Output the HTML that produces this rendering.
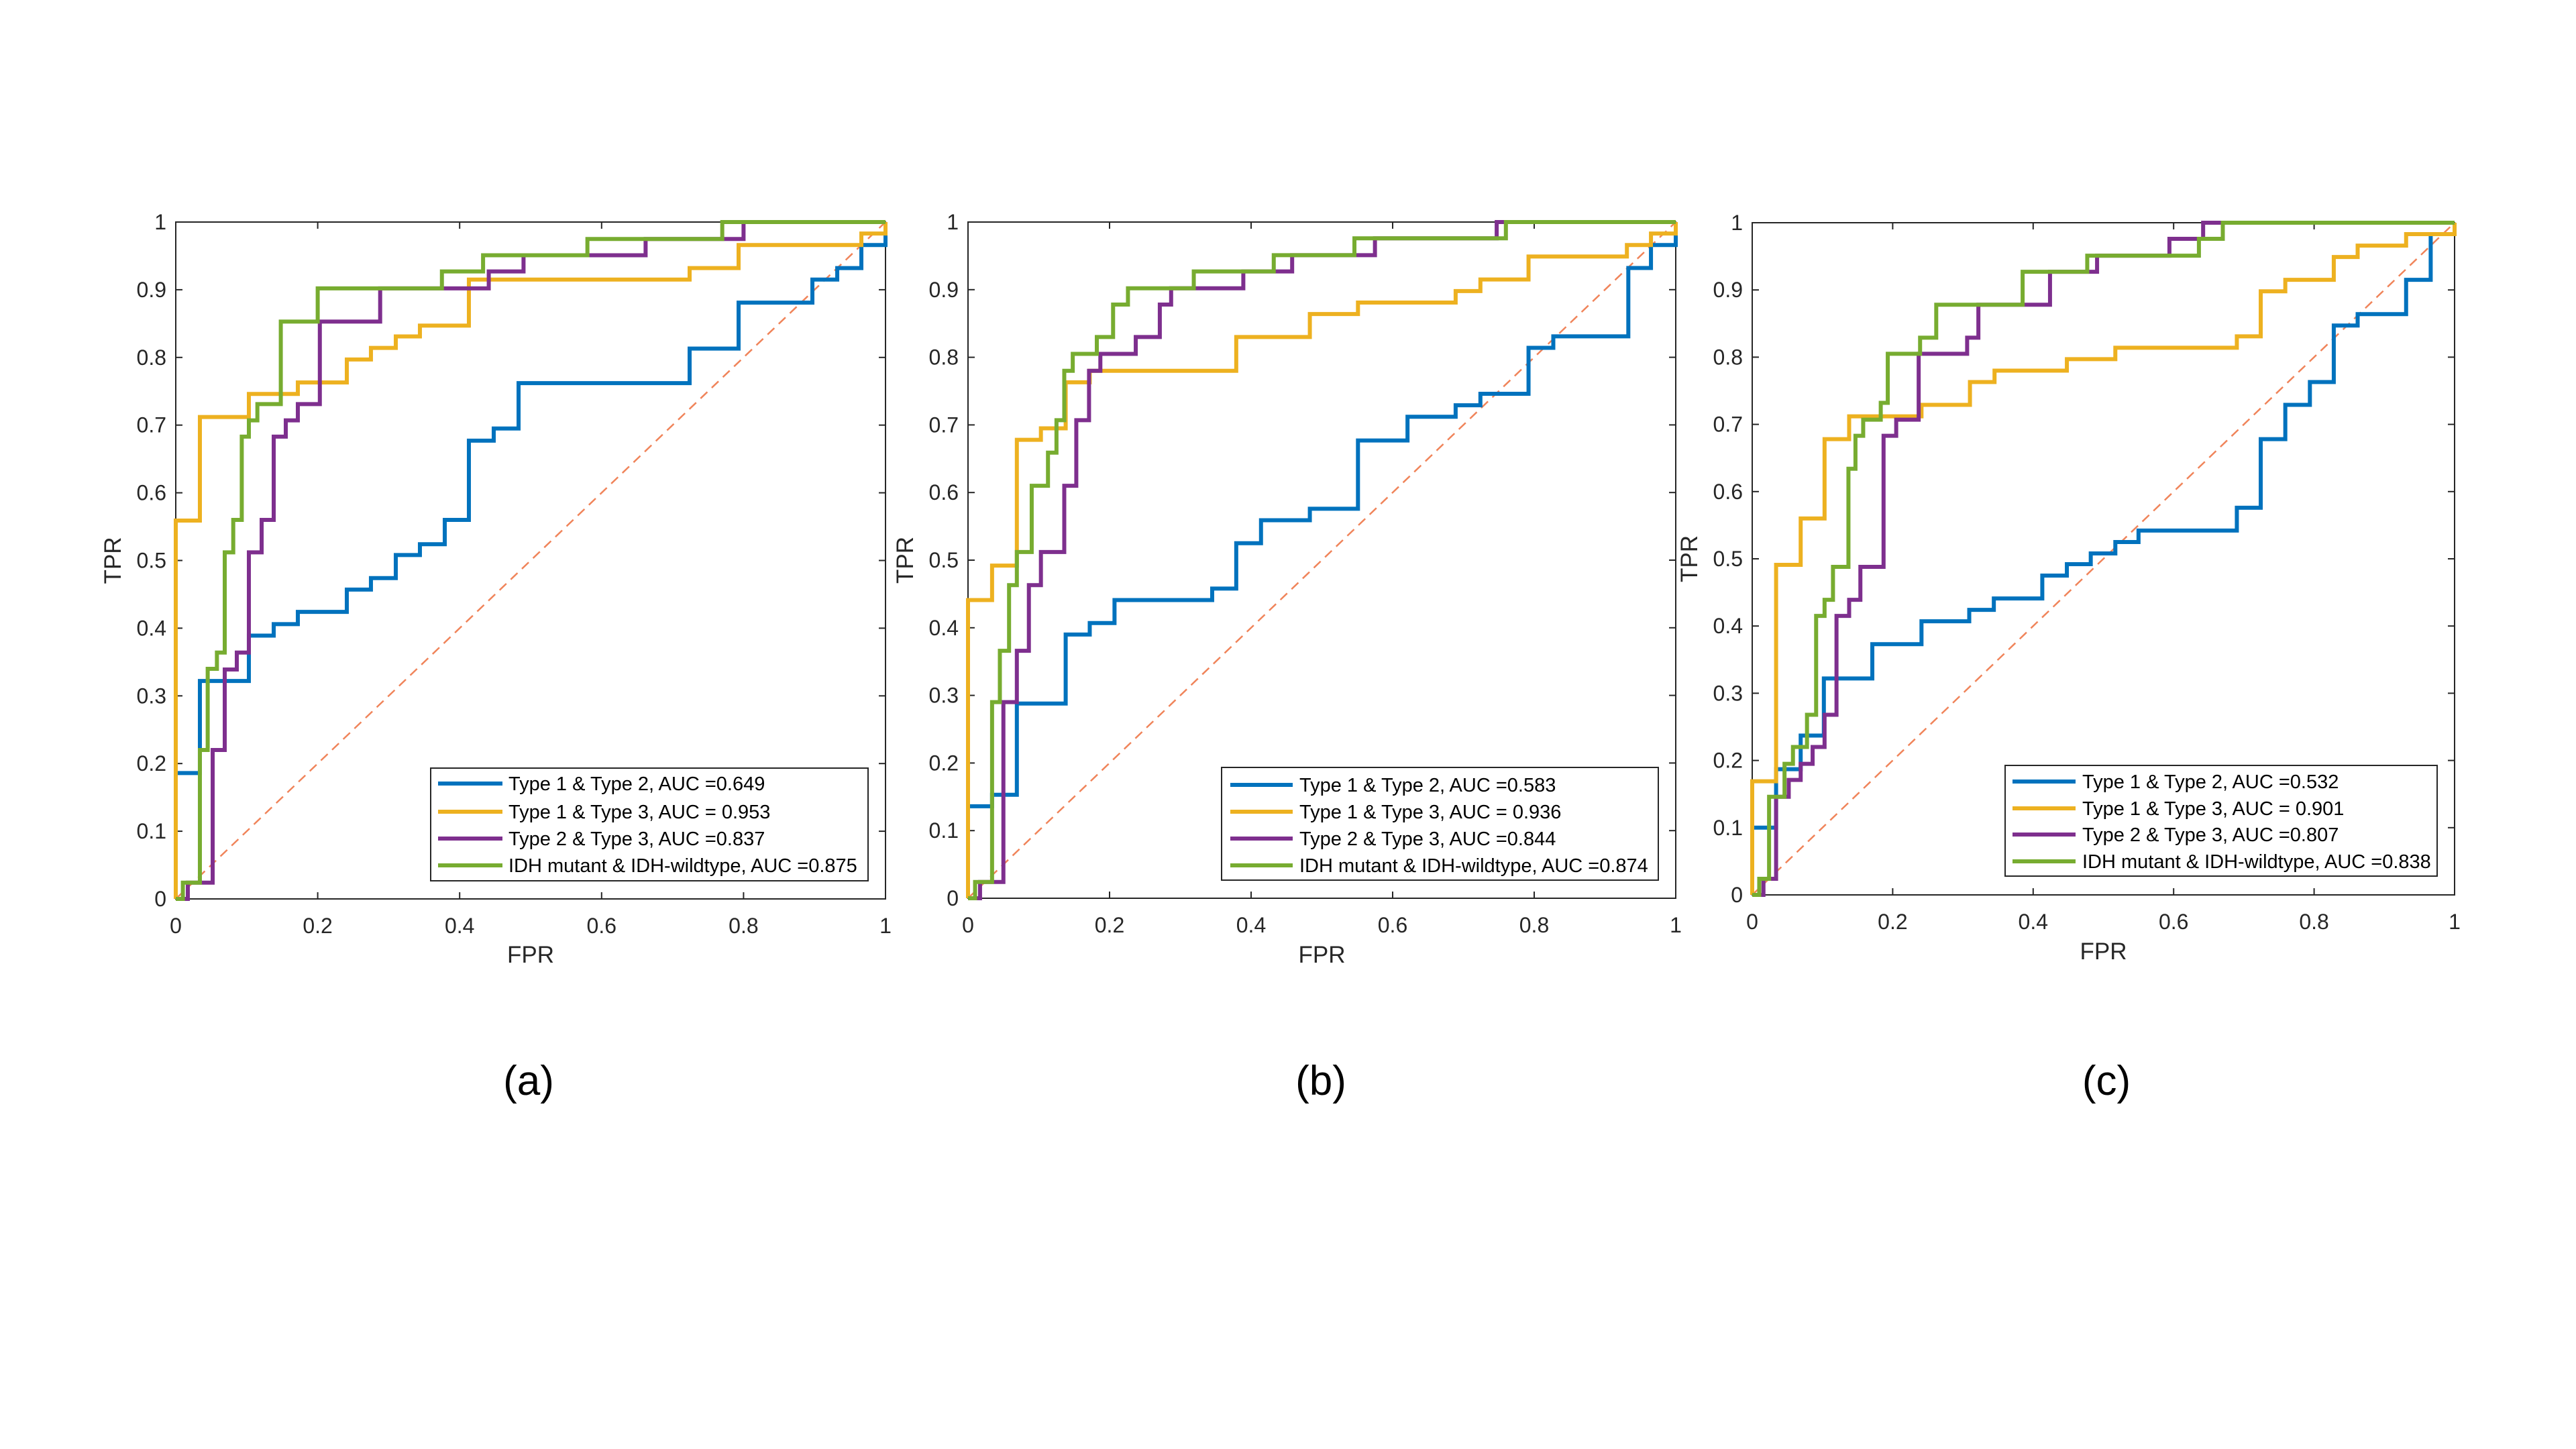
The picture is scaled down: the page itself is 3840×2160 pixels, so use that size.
<!DOCTYPE html>
<html><head><meta charset="utf-8"><style>
html,body{margin:0;padding:0;background:#fff;}
svg{display:block;font-family:"Liberation Sans",Arial,sans-serif;}
</style></head><body>
<svg id="fig" width="3840" height="2160" viewBox="0 0 3840 2160" xmlns="http://www.w3.org/2000/svg"></svg>
<script>
// ---- data: ROC staircase vertices (FPR, TPR) ----
const ticks = [0,0.1,0.2,0.3,0.4,0.5,0.6,0.7,0.8,0.9,1];
const xTicks = [0,0.2,0.4,0.6,0.8,1];
const seriesNames = ["Type 1 & Type 2","Type 1 & Type 3","Type 2 & Type 3","IDH mutant & IDH-wildtype"];
const aucA = ["=0.649","= 0.953","=0.837","=0.875"];
const aucB = ["=0.583","= 0.936","=0.844","=0.874"];
const aucC = ["=0.532","= 0.901","=0.807","=0.838"];

const aBlueX=[0,0,0.034,0.103,0.138,0.172,0.241,0.275,0.31,0.344,0.379,0.413,0.448,0.483,0.724,0.793,0.897,0.932,0.966,1];
const aBlueY=[0,0.186,0.322,0.389,0.406,0.424,0.457,0.474,0.508,0.524,0.56,0.677,0.695,0.762,0.813,0.881,0.915,0.932,0.966,1];
const aYelX=[0,0,0.034,0.103,0.172,0.241,0.275,0.31,0.344,0.413,0.724,0.793,0.966,1];
const aYelY=[0,0.559,0.712,0.746,0.763,0.797,0.814,0.831,0.847,0.915,0.932,0.966,0.983,1];
const aPurX=[0,0.017,0.052,0.069,0.086,0.103,0.121,0.138,0.155,0.172,0.203,0.288,0.441,0.49,0.662,0.8,1];
const aPurY=[0,0.024,0.22,0.339,0.364,0.512,0.56,0.683,0.707,0.731,0.853,0.902,0.927,0.951,0.975,1,1];
const aGrnX=[0,0.01,0.034,0.045,0.058,0.069,0.081,0.093,0.103,0.115,0.148,0.2,0.375,0.433,0.58,0.77,1];
const aGrnY=[0,0.024,0.22,0.34,0.364,0.512,0.56,0.683,0.707,0.731,0.853,0.902,0.927,0.951,0.975,1,1];

const bBlueX=[0,0,0.034,0.069,0.138,0.172,0.207,0.345,0.379,0.414,0.483,0.551,0.621,0.689,0.724,0.792,0.827,0.933,0.965,1];
const bBlueY=[0,0.136,0.153,0.288,0.39,0.407,0.441,0.458,0.525,0.559,0.576,0.677,0.712,0.729,0.746,0.814,0.831,0.932,0.966,1];
const bYelX=[0,0,0.034,0.069,0.103,0.138,0.172,0.379,0.483,0.551,0.689,0.724,0.792,0.931,0.965,1];
const bYelY=[0,0.441,0.492,0.678,0.695,0.763,0.78,0.83,0.864,0.881,0.898,0.915,0.949,0.966,0.983,1];
const bPurX=[0,0.017,0.05,0.069,0.086,0.103,0.136,0.153,0.171,0.187,0.237,0.271,0.287,0.389,0.458,0.575,0.747,1];
const bPurY=[0,0.024,0.29,0.366,0.463,0.512,0.61,0.707,0.78,0.805,0.83,0.878,0.902,0.927,0.951,0.976,1,1];
const bGrnX=[0,0.01,0.034,0.045,0.058,0.069,0.09,0.113,0.125,0.136,0.148,0.182,0.205,0.226,0.319,0.432,0.546,0.76,1];
const bGrnY=[0,0.024,0.29,0.366,0.463,0.512,0.61,0.659,0.707,0.78,0.805,0.83,0.878,0.902,0.927,0.951,0.976,1,1];

const cBlueX=[0,0,0.034,0.069,0.102,0.171,0.241,0.309,0.344,0.413,0.448,0.482,0.517,0.55,0.69,0.724,0.759,0.794,0.828,0.862,0.931,0.966,1];
const cBlueY=[0,0.1,0.187,0.237,0.322,0.373,0.407,0.424,0.441,0.475,0.492,0.508,0.525,0.542,0.576,0.678,0.729,0.763,0.847,0.864,0.915,0.983,1];
const cYelX=[0,0,0.034,0.069,0.103,0.138,0.241,0.31,0.345,0.448,0.517,0.69,0.724,0.759,0.828,0.862,0.931,1];
const cYelY=[0,0.169,0.491,0.56,0.678,0.712,0.729,0.763,0.78,0.797,0.814,0.831,0.898,0.915,0.949,0.966,0.983,1];
const cPurX=[0,0.016,0.034,0.052,0.069,0.086,0.103,0.12,0.138,0.154,0.187,0.205,0.237,0.306,0.322,0.424,0.491,0.594,0.642,1];
const cPurY=[0,0.024,0.146,0.171,0.195,0.22,0.268,0.415,0.439,0.488,0.683,0.707,0.805,0.829,0.878,0.927,0.951,0.976,1,1];
const cGrnX=[0,0.01,0.024,0.046,0.058,0.078,0.091,0.103,0.115,0.137,0.147,0.158,0.183,0.193,0.239,0.262,0.385,0.477,0.636,0.67,1];
const cGrnY=[0,0.024,0.146,0.195,0.22,0.268,0.415,0.439,0.488,0.634,0.683,0.707,0.732,0.805,0.829,0.878,0.927,0.951,0.976,1,1];

const colors=["#0072BD","#EDB120","#7E2F8E","#77AC30"];
const NS="http://www.w3.org/2000/svg";
const svg=document.getElementById('fig');
function mk(tag,attrs,parent){const e=document.createElementNS(NS,tag);for(const k in attrs)e.setAttribute(k,attrs[k]);(parent||svg).appendChild(e);return e;}

const panels=[
 {id:'a',x0:262,x1:1320,y0:1340,y1:331,auc:aucA,series:[[aBlueX,aBlueY],[aYelX,aYelY],[aPurX,aPurY],[aGrnX,aGrnY]],
  leg:{x:642,y:1145,w:652,h:168,rows:[1168,1210,1250,1290],lx0:653,lx1:749,tx:758},lab:{x:788,y:1632},fpr:1435},
 {id:'b',x0:1443,x1:2498,y0:1339,y1:331,auc:aucB,series:[[bBlueX,bBlueY],[bYelX,bYelY],[bPurX,bPurY],[bGrnX,bGrnY]],
  leg:{x:1821,y:1144,w:651,h:168,rows:[1170,1210,1250,1290],lx0:1834,lx1:1927,tx:1937},lab:{x:1969,y:1632},fpr:1435},
 {id:'c',x0:2612,x1:3659,y0:1334,y1:332,auc:aucC,series:[[cBlueX,cBlueY],[cYelX,cYelY],[cPurX,cPurY],[cGrnX,cGrnY]],
  leg:{x:2989,y:1141,w:644,h:165,rows:[1165,1205,1244,1284],lx0:3000,lx1:3094,tx:3104},lab:{x:3140,y:1632},fpr:1430}
];

panels.forEach(p=>{
  const g=mk('g',{});
  
  
  const sx=v=>p.x0+v*(p.x1-p.x0), sy=v=>p.y0-v*(p.y0-p.y1);
  const box=mk('rect',{x:p.x0,y:p.y1,width:p.x1-p.x0,height:p.y0-p.y1,fill:'none',stroke:'#262626','stroke-width':2},g);
  
  
  const tl=10;
  ticks.forEach(t=>{
    const y=sy(t);
    mk('line',{x1:p.x0,x2:p.x0+tl,y1:y,y2:y,stroke:'#262626','stroke-width':2},g);
    mk('line',{x1:p.x1,x2:p.x1-tl,y1:y,y2:y,stroke:'#262626','stroke-width':2},g);
    const tx=mk('text',{x:p.x0-14,y:y+11,'text-anchor':'end','font-size':32,fill:'#262626'},g);
    tx.textContent=String(t);
    
    
  });
  xTicks.forEach(t=>{
    const x=sx(t);
    mk('line',{x1:x,x2:x,y1:p.y0,y2:p.y0-tl,stroke:'#262626','stroke-width':2},g);
    mk('line',{x1:x,x2:x,y1:p.y1,y2:p.y1+tl,stroke:'#262626','stroke-width':2},g);
    const tx=mk('text',{x:x,y:p.y0+51,'text-anchor':'middle','font-size':32,fill:'#262626'},g);
    tx.textContent=String(t);
    
    
  });
  const d=mk('line',{x1:sx(0),y1:sy(0),x2:sx(1),y2:sy(1),stroke:'#F0845A','stroke-width':2.5,'stroke-dasharray':'14 9'},g);
  
  
  p.series.forEach((s,i)=>{
    const X=s[0],Y=s[1];
    let dd='M'+sx(X[0])+' '+sy(Y[0]);
    for(let k=1;k<X.length;k++){dd+=' H'+sx(X[k])+' V'+sy(Y[k]);}
    const path=mk('path',{d:dd,fill:'none',stroke:colors[i],'stroke-width':6,'stroke-linejoin':'miter'},g);
    
    
  });
  const L=p.leg;
  const lg=mk('g',{},g);
  
  
  mk('rect',{x:L.x,y:L.y,width:L.w,height:L.h,fill:'#fff',stroke:'#262626','stroke-width':2},lg);
  L.rows.forEach((ry,i)=>{
    const e=mk('g',{},lg);
    
    
    mk('line',{x1:L.lx0,x2:L.lx1,y1:ry,y2:ry,stroke:colors[i],'stroke-width':6},e);
    const t=mk('text',{x:L.tx,y:ry+10,'font-size':29,fill:'#000'},e);
    t.textContent=seriesNames[i]+', AUC '+p.auc[i];
  });
  const fx=mk('text',{x:(p.x0+p.x1)/2,y:p.fpr,'text-anchor':'middle','font-size':35,fill:'#262626'},g);
  fx.textContent='FPR';
  
  
  const cy=(p.y0+p.y1)/2, cx=p.x0-82;
  const fy=mk('text',{x:cx,y:cy,'text-anchor':'middle','font-size':35,fill:'#262626',transform:'rotate(-90 '+cx+' '+cy+')'},g);
  fy.textContent='TPR';
  
  
  const lab=mk('text',{x:p.lab.x,y:p.lab.y,'text-anchor':'middle','font-size':62,fill:'#000'},g);
  lab.textContent='('+p.id+')';
  
  
});
</script>
</body></html>
